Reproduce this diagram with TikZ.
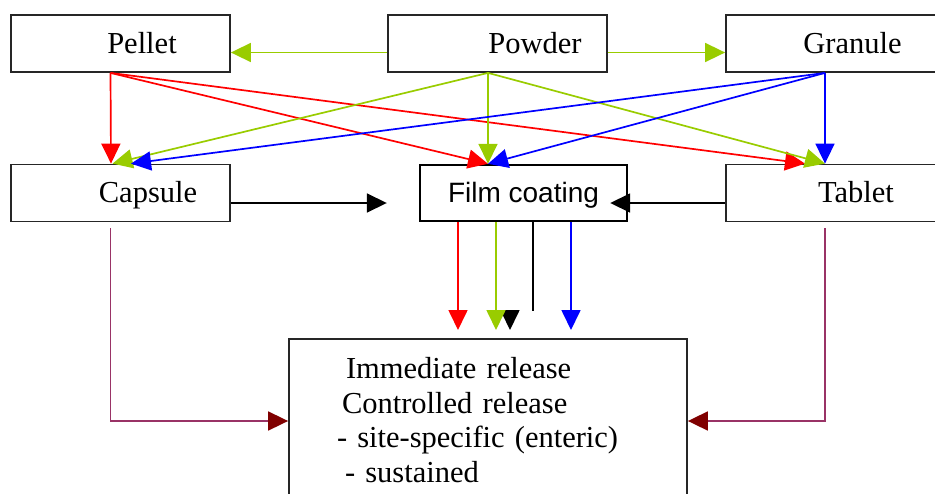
\documentclass[tikz,border=0pt]{standalone}
\usepackage{fontspec}
\setmainfont{Liberation Serif}
\newfontfamily\coatfont{Liberation Sans}
\usetikzlibrary{arrows.meta,calc,positioning}
\definecolor{grnCol}{HTML}{99CC00}
\definecolor{redCol}{HTML}{FF0000}
\definecolor{bluCol}{HTML}{0000FF}
\definecolor{purCol}{HTML}{993366}
\definecolor{tipCol}{HTML}{800000}
\definecolor{edgeCol}{HTML}{262626}
\tikzset{
  form/.style={draw=edgeCol, line width=1.8pt, minimum width=219pt, minimum height=57pt,
               inner sep=0pt, text height=22pt, text depth=2.4pt, font=\fontsize{30.5}{35}\selectfont},
  coat/.style={draw=black, line width=2.4pt, minimum width=207pt, minimum height=56pt,
               inner sep=0pt, text height=21pt, text depth=3pt, font=\coatfont\fontsize{28}{32}\selectfont},
  outbox/.style={draw=edgeCol, line width=1.8pt, minimum width=398pt, minimum height=162pt,
                 text width=302pt, inner xsep=48pt, inner ysep=0pt, align=left,
                 font=\fontsize{30.5}{34.5}\selectfont},
  flow/.style={-{Triangle[length=20pt,width=19pt]}, line width=1.7pt},       % dosage form step
  route/.style={-{Triangle[length=20pt,width=19pt,color=tipCol]}, line width=1.8pt, purCol}, % direct route
}
\begin{document}
\begin{tikzpicture}[x=1pt,y=-1pt]
  \useasboundingbox (0,0) rectangle (935,493);
  \clip (0,0) rectangle (935,493);
  \def\L{120.5}\def\C{497.5}\def\R{835.5}
  \def\T{43.5}\def\M{193}

  \node[form] (pellet)  at (\L,\T) {\hspace*{43pt}Pellet};
  \node[form] (powder)  at (\C,\T) {\hspace*{75pt}Powder};
  \node[form] (granule) at (\R,\T) {\hspace*{34pt}Granule};
  \node[form] (capsule) at (\L,\M) {\hspace*{55pt}Capsule};
  \node[coat] (film)    at (523.5,\M) {Film coating};
  \node[form] (tablet)  at (\R,\M) {\hspace*{41pt}Tablet};
  \node[outbox, anchor=north] (release) at (488,338)
    {\hspace*{9pt}Immediate release\\\hspace*{5pt}Controlled release\\- site-specific (enteric)\\\hspace*{8pt}- sustained};

  % powder sideways
  \draw[flow, grnCol] ([yshift=-9pt]powder.west) -- ([yshift=-9pt]pellet.east);
  \draw[flow, grnCol] ([yshift=-9pt]powder.east) -- ([yshift=-9pt]granule.west);

  % down to the second row
  \draw[flow, redCol] ([xshift=-10pt]pellet.south) -- ([xshift=-9.5pt]capsule.north);
  \draw[flow, redCol] ([xshift=-10pt]pellet.south) -- ([xshift=-35.5pt]film.north);
  \draw[flow, redCol] ([xshift=-10pt]pellet.south) -- ([xshift=-30.5pt]tablet.north);
  \draw[flow, grnCol] ([xshift=-9.5pt]powder.south) -- ([xshift=-8pt]capsule.north);
  \draw[flow, grnCol] ([xshift=-9.5pt]powder.south) -- ([xshift=-35.5pt]film.north);
  \draw[flow, grnCol] ([xshift=-9.5pt]powder.south) -- ([xshift=-10.5pt]tablet.north);
  \draw[flow, bluCol] ([xshift=-10.5pt]granule.south) -- ([xshift=10.5pt]capsule.north);
  \draw[flow, bluCol] ([xshift=-10.5pt]granule.south) -- ([xshift=-35.5pt]film.north);
  \draw[flow, bluCol] ([xshift=-10.5pt]granule.south) -- ([xshift=-10.5pt]tablet.north);

  % into film coating
  \draw[flow] ([yshift=-10pt]capsule.east) -- ([yshift=-10pt,xshift=-32pt]film.west);
  \draw[flow] ([yshift=-10pt]tablet.west) -- ([yshift=-10pt,xshift=-18pt]film.east);

  % film coating to release
  \draw[flow] ([xshift=22pt,yshift=12pt]release.north) -- ([xshift=22pt,yshift=8pt]release.north);
  \draw[flow, redCol] ([xshift=-65.5pt]film.south) -- ([xshift=-30pt,yshift=8pt]release.north);
  \draw[flow, grnCol] ([xshift=-27.5pt]film.south) -- ([xshift=8pt,yshift=8pt]release.north);
  \draw[line width=1.7pt] ([xshift=9.5pt]film.south) -- ([xshift=45pt,yshift=27pt]release.north);
  \draw[flow, bluCol] ([xshift=47.5pt]film.south) -- ([xshift=83pt,yshift=8pt]release.north);

  % capsule and tablet straight to release
  \draw[route] ([xshift=-10pt,yshift=-6pt]capsule.south) |- ([yshift=-83pt]release.north west);
  \draw[route] ([xshift=-10.5pt,yshift=-6pt]tablet.south) |- ([yshift=-83pt]release.north east);
\end{tikzpicture}
\end{document}
